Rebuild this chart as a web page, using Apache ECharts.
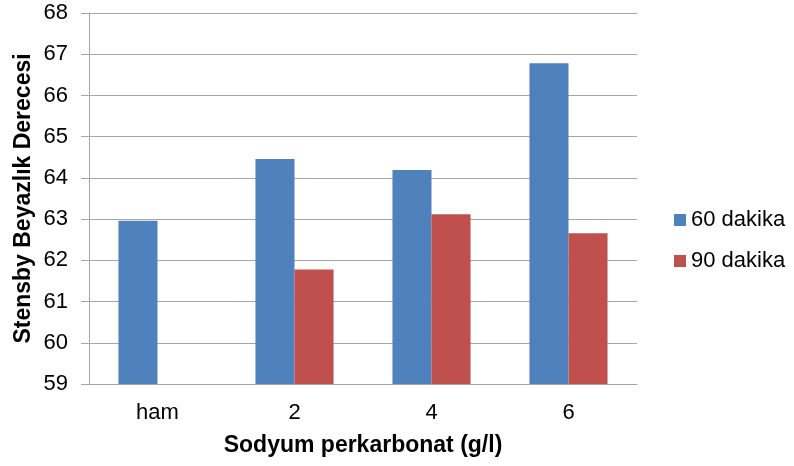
<!DOCTYPE html>
<html>
<head>
<meta charset="utf-8">
<script src="https://cdn.jsdelivr.net/npm/echarts@6/dist/echarts.min.js"></script>
<style>
  html, body { margin: 0; padding: 0; background: #fff; }
  #chart { width: 794px; height: 466px; }
</style>
</head>
<body>
<div id="chart"></div>
<script>
// Stensby whiteness by sodium percarbonate dose and treatment time
const categories = ['ham', '2', '4', '6'];
const seriesNames = ['60 dakika', '90 dakika'];
const values60 = [62.96, 64.46, 64.19, 66.78];
const values90 = [null, 61.78, 63.12, 62.66];
const yMin = 59;
const yMax = 68;
const yStep = 1;

const font = 'Arial, "Liberation Sans", sans-serif';
const chart = echarts.init(document.getElementById('chart'), null, { renderer: 'canvas' });

chart.setOption({
  animation: false,
  backgroundColor: '#ffffff',
  textStyle: { fontFamily: font },
  grid: { left: 89, right: 157, top: 13, bottom: 82, containLabel: false, outerBoundsMode: 'none' },
  legend: {
    orient: 'vertical',
    left: 669,
    top: 204,
    padding: 5,
    itemWidth: 12,
    itemHeight: 12,
    itemGap: 19,
    icon: 'rect',
    textStyle: { fontFamily: font, fontSize: 22, color: '#000' },
    data: seriesNames
  },
  xAxis: {
    type: 'category',
    data: categories,
    name: 'Sodyum perkarbonat (g/l)',
    nameLocation: 'middle',
    nameGap: 50,
    nameMoveOverlap: false,
    nameTextStyle: { fontFamily: font, fontSize: 23, fontWeight: 'bold', color: '#000' },
    axisLine: { lineStyle: { color: '#a6a6a6', width: 1 } },
    axisTick: { show: false },
    axisLabel: { margin: 18, fontSize: 22, color: '#000', fontFamily: font }
  },
  yAxis: {
    type: 'value',
    min: yMin,
    max: yMax,
    interval: yStep,
    name: 'Stensby Beyazlık Derecesi',
    nameLocation: 'middle',
    nameGap: 54,
    nameMoveOverlap: false,
    nameTextStyle: { fontFamily: font, fontSize: 23, fontWeight: 'bold', color: '#000' },
    axisLine: { show: true, lineStyle: { color: '#a6a6a6', width: 1 } },
    axisTick: { show: true, length: 8, lineStyle: { color: '#a6a6a6' } },
    axisLabel: { margin: 21, fontSize: 22, color: '#000', fontFamily: font },
    splitLine: { show: true, lineStyle: { color: '#a6a6a6', width: 1 } }
  },
  series: [
    {
      name: seriesNames[0],
      type: 'bar',
      data: values60,
      barGap: '0%',
      barCategoryGap: '43%',
      itemStyle: { color: '#4F81BD' }
    },
    {
      name: seriesNames[1],
      type: 'bar',
      data: values90,
      barGap: '0%',
      barCategoryGap: '43%',
      itemStyle: { color: '#C0504D' }
    }
  ]
});
</script>
</body>
</html>
